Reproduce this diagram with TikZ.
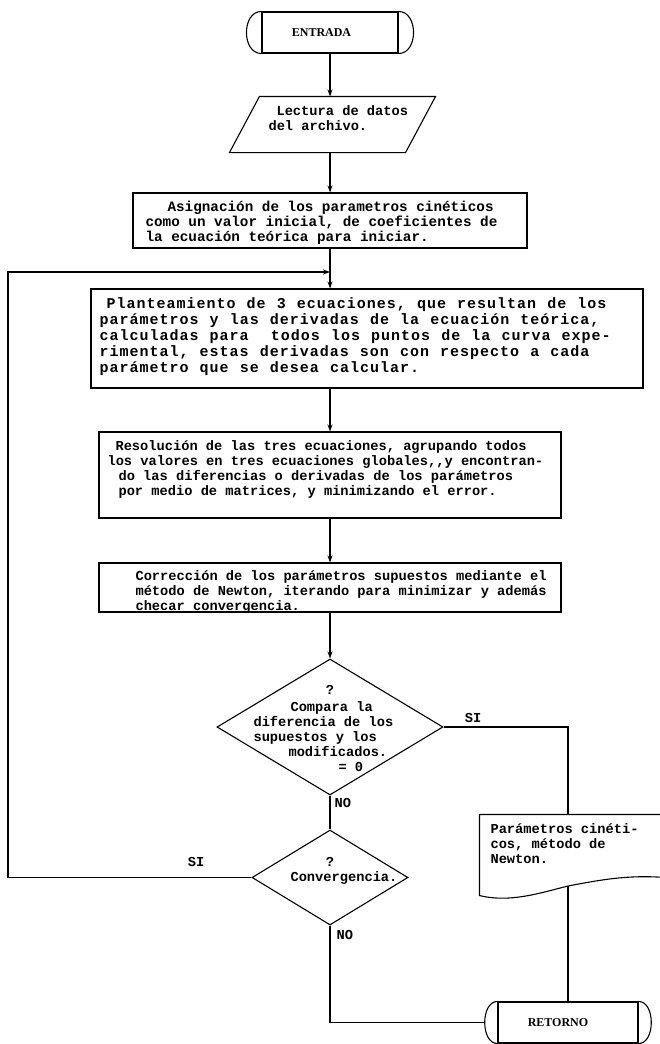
\documentclass[tikz,border=0pt]{standalone}
\usepackage{fontspec}
\newfontfamily\tw{Liberation Mono}
% wider-pitched typewriter face for the equations box
\newfontfamily\twpica{Liberation Mono}[LetterSpace=6.7,WordSpace=1.11]
\newfontfamily\tsr{Liberation Serif}
\usetikzlibrary{arrows.meta,calc,shapes.geometric}

% rounded end caps of a terminator node
\newcommand\termcaps[2]{%
  \draw (#1.north west) .. controls +(-#2,0) and +(-#2,0) .. (#1.south west);
  \draw (#1.north east) .. controls +(#2,0) and +(#2,0) .. (#1.south east);}

\begin{document}
\begin{tikzpicture}[x=1pt,y=-1pt,
  line width=1.1pt,
  >={Stealth[length=7pt,width=5pt]},
  box/.style={draw,rectangle,inner sep=0pt},
  frame/.style={rectangle,inner sep=0pt},
  term/.style={draw,rectangle,inner sep=0pt,minimum height=41,
    font=\tsr\bfseries\fontsize{12}{13}\selectfont},
  decision/.style={draw,diamond,inner sep=0pt,aspect=1},
  txt/.style={anchor=north west,inner sep=0pt,align=left,
    font=\tw\bfseries\fontsize{13.7}{15}\selectfont},
  asgtxt/.style={txt,font=\tw\bfseries\fontsize{14.3}{15}\selectfont},
  picatxt/.style={txt,font=\twpica\bfseries\fontsize{15}{16}\selectfont},
  lbl/.style={inner sep=0pt,font=\tw\bfseries\fontsize{13.7}{15}\selectfont},
]
\useasboundingbox (0,0) rectangle (659,1044);
\fill[white] (0,0) rectangle (659,1044);

% start
\node[term,minimum width=136] (ent) at (330,32.5) {ENTRADA\hspace*{17pt}};
\termcaps{ent}{20}

% input: data file
\node[frame,minimum width=175,minimum height=55] (lec) at (332.5,124.5) {};
\draw ($(lec.north west)+(15,0)$) -- ($(lec.north east)+(15,0)$)
   -- ($(lec.south east)+(-15,0)$) -- ($(lec.south west)+(-15,0)$) -- cycle;
\node[txt] (lecT) at (268,105) {\hspace*{8pt}Lectura de datos\\del archivo.};

% initial values
\node[box,minimum width=394,minimum height=55] (asg) at (330,220.5) {};
\node[asgtxt] (asgT) at (145,201) {\hspace*{22pt}Asignación de los parametros cinéticos\\como un valor inicial, de coeficientes de\\la ecuación teórica para iniciar.};

% equations
\node[box,minimum width=552,minimum height=99] (plan) at (367,338.5) {};
\node[picatxt] (planT) at (99,297) {\hspace*{7pt}Planteamiento de 3 ecuaciones, que resultan de los\\parámetros y las derivadas de la ecuación teórica,\\calculadas para\ \ todos los puntos de la curva expe-\\rimental, estas derivadas son con respecto a cada\\parámetro que se desea calcular.};

% solution
\node[box,minimum width=462,minimum height=86] (res) at (330,475) {};
\node[txt] (resT) at (107,440) {\hspace*{8pt}Resolución de las tres ecuaciones, agrupando todos\\los valores en tres ecuaciones globales,,y encontran-\\\hspace*{11pt}do las diferencias o derivadas de los parámetros\\\hspace*{11pt}por medio de matrices, y minimizando el error.};

% correction
\node[box,minimum width=462,minimum height=49] (cor) at (330,587.5) {};
\node[txt] (corT) at (135,570) {Corrección de los parámetros supuestos mediante el\\método de Newton, iterando para minimizar y además\\checar convergencia.};

% first decision
\node[decision,minimum width=226,minimum height=136] (d1) at (330,727) {};
\node[lbl] (d1q) at (330,690) {?};
\node[txt] (d1T) at (253,701) {\hspace*{37pt}Compara la\\diferencia de los\\supuestos y los\\\hspace*{35pt}modificados.\\\hspace*{85pt}= 0};

% second decision
\node[decision,minimum width=156,minimum height=95] (d2) at (330,877.5) {};
\node[lbl] (d2q) at (330,862) {?};
\node[lbl,anchor=west] (d2T) at (290,878) {Convergencia.};

% output document
\node[frame,minimum width=190,minimum height=80] (doc) at (575,855) {};
\coordinate (doctop) at (568,815);
\coordinate (docbot) at (568,886);
\draw (doc.north west) -- (doc.north east) -- (doc.south east |- 0,878)
  .. controls (630,874) and (600,880) .. (docbot)
  .. controls (540,893) and (510,903) .. (doc.south west) -- cycle;
\node[txt] (docT) at (490,823) {Parámetros cinéti-\\cos, método de\\Newton.};

% end
\node[term,minimum width=140] (ret) at (568,1022.5) {RETORNO\hspace*{20pt}};
\termcaps{ret}{17}
\coordinate (retL) at ($(ret.west)+(-13,0)$);

% loop corner and junction on the main line
\coordinate (lpc) at (8,272);
\coordinate (join) at (330,272);

% connectors
\draw[->] (ent.south) -- (ent.south |- lec.north);
\draw[->] (lec.south -| ent.south) -- (asg.north);
\draw[->] (asg.south) -- (asg.south |- plan.north);
\draw[->] (asg.south |- plan.south) -- (res.north);
\draw[->] (res.south) -- (cor.north);
\draw[->] (cor.south) -- (d1.north);
\draw (d1.east) -| (doctop);
\draw (d1.south) -- (d2.north);
\draw[->] (d2.west) -| (lpc) -- (join);
\draw (docbot) -- (ret.north);
\draw (d2.south) |- (retL);

% branch labels
\node[lbl] (si1) at (473,718) {SI};
\node[lbl,anchor=west] (no1) at (334,803) {NO};
\node[lbl] (si2) at (196,862) {SI};
\node[lbl,anchor=west] (no2) at (336,935) {NO};
\end{tikzpicture}
\end{document}
